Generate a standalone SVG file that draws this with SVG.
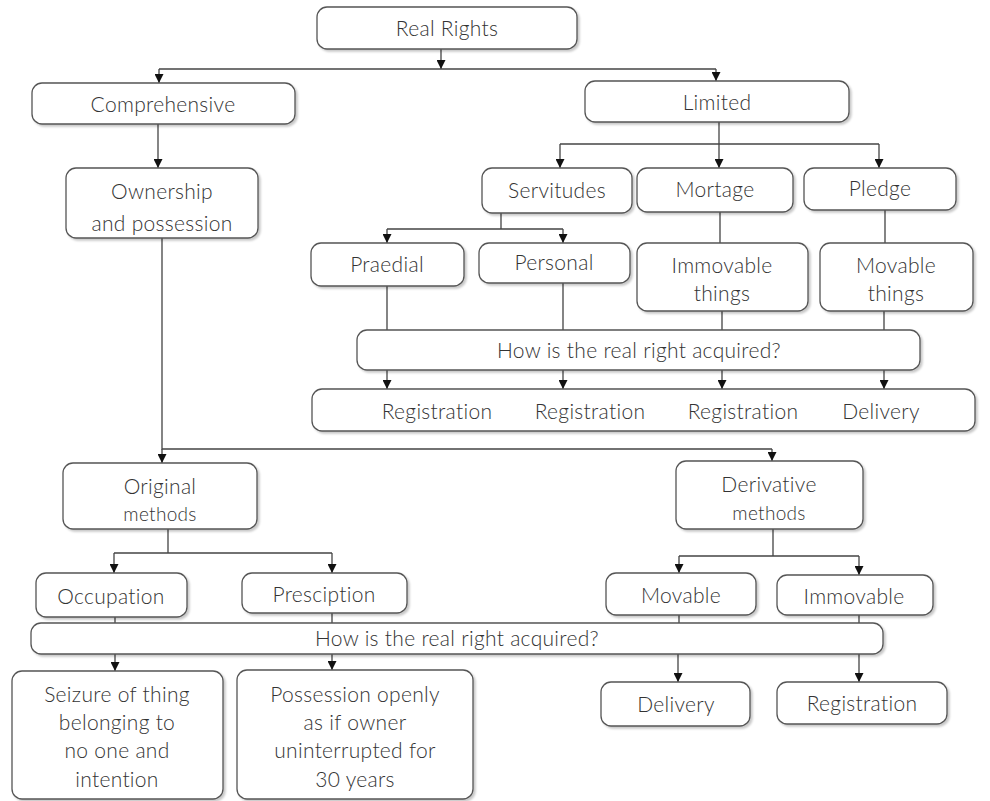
<svg xmlns="http://www.w3.org/2000/svg" width="990" height="801" viewBox="0 0 990 801">
<defs>
<style>
.box{fill:#fff;stroke:#555;stroke-width:1.3;filter:url(#sh)}
.t{font-family:Lato,"Open Sans","DejaVu Sans",sans-serif;font-weight:300;font-size:21px;letter-spacing:0.3px;fill:#333;text-anchor:middle}
.s{font-size:19px}
.c{fill:none;stroke:#444;stroke-width:1.3}
</style>
<filter id="sh" x="-10%" y="-10%" width="120%" height="130%">
<feDropShadow dx="2" dy="2" stdDeviation="1.2" flood-color="#000" flood-opacity="0.22"/>
</filter>
<marker id="ar" markerUnits="userSpaceOnUse" markerWidth="9" markerHeight="9" refX="8" refY="4" orient="auto" viewBox="0 0 8 8">
<path d="M0,0 L8,4 L0,8 z" fill="#111"/>
</marker>
</defs>
<rect width="990" height="801" fill="#fff"/>
<g id="connectors">
<path class="c" d="M441,49 V69" marker-end="url(#ar)"/>
<path class="c" d="M159,69 H716"/>
<path class="c" d="M159,69 V83" marker-end="url(#ar)"/>
<path class="c" d="M716,69 V81" marker-end="url(#ar)"/>
<path class="c" d="M158,124 V168" marker-end="url(#ar)"/>
<path class="c" d="M719,122 V168" marker-end="url(#ar)"/>
<path class="c" d="M560,144 H879"/>
<path class="c" d="M560,144 V168" marker-end="url(#ar)"/>
<path class="c" d="M879,144 V168" marker-end="url(#ar)"/>
<path class="c" d="M501,213 V229 M387,229 H563"/>
<path class="c" d="M387,229 V243" marker-end="url(#ar)"/>
<path class="c" d="M563,229 V243" marker-end="url(#ar)"/>
<path class="c" d="M720,212 V243 M885,210 V243"/>
<path class="c" d="M387,286 V330 M563,283 V330 M722,311 V330 M884,311 V330"/>
<path class="c" d="M387,370 V389" marker-end="url(#ar)"/>
<path class="c" d="M563,370 V389" marker-end="url(#ar)"/>
<path class="c" d="M722,370 V389" marker-end="url(#ar)"/>
<path class="c" d="M884,370 V389" marker-end="url(#ar)"/>
<path class="c" d="M162,238 V449 H772"/>
<path class="c" d="M162,449 V463" marker-end="url(#ar)"/>
<path class="c" d="M772,449 V461" marker-end="url(#ar)"/>
<path class="c" d="M168,529 V553 M114,553 H332"/>
<path class="c" d="M114,553 V573" marker-end="url(#ar)"/>
<path class="c" d="M332,553 V573" marker-end="url(#ar)"/>
<path class="c" d="M773,529 V556 M679,556 H859"/>
<path class="c" d="M679,556 V573" marker-end="url(#ar)"/>
<path class="c" d="M859,556 V575" marker-end="url(#ar)"/>
<path class="c" d="M115,617 V623 M332,613 V623 M679,615 V623 M859,615 V623"/>
<path class="c" d="M115,654 V671" marker-end="url(#ar)"/>
<path class="c" d="M332,654 V670" marker-end="url(#ar)"/>
<path class="c" d="M678,654 V682" marker-end="url(#ar)"/>
<path class="c" d="M859,654 V682" marker-end="url(#ar)"/>
</g>
<g id="n-real-rights"><rect class="box" x="317" y="7" width="260" height="42" rx="10"/><text class="t" x="447" y="36">Real Rights</text></g>
<g id="n-comprehensive"><rect class="box" x="32" y="83" width="263" height="41" rx="10"/><text class="t" x="163" y="112">Comprehensive</text></g>
<g id="n-limited"><rect class="box" x="585" y="81" width="264" height="41" rx="10"/><text class="t" x="717" y="110">Limited</text></g>
<g id="n-ownership"><rect class="box" x="66" y="168" width="192" height="70" rx="10"/><text class="t" x="162" y="199">Ownership</text><text class="t" x="162" y="231">and possession</text></g>
<g id="n-servitudes"><rect class="box" x="482" y="168" width="150" height="45" rx="10"/><text class="t" x="557" y="198">Servitudes</text></g>
<g id="n-mortage"><rect class="box" x="637" y="168" width="156" height="44" rx="10"/><text class="t" x="715" y="197">Mortage</text></g>
<g id="n-pledge"><rect class="box" x="804" y="168" width="152" height="42" rx="10"/><text class="t" x="880" y="196">Pledge</text></g>
<g id="n-praedial"><rect class="box" x="311" y="243" width="153" height="43" rx="10"/><text class="t" x="387" y="272">Praedial</text></g>
<g id="n-personal"><rect class="box" x="479" y="243" width="151" height="40" rx="10"/><text class="t" x="554" y="270">Personal</text></g>
<g id="n-immovable-things"><rect class="box" x="637" y="243" width="171" height="68" rx="10"/><text class="t" x="722" y="273">Immovable</text><text class="t" x="722" y="301">things</text></g>
<g id="n-movable-things"><rect class="box" x="820" y="243" width="153" height="68" rx="10"/><text class="t" x="896" y="273">Movable</text><text class="t" x="896" y="301">things</text></g>
<g id="n-how-1"><rect class="box" x="357" y="330" width="563" height="40" rx="10"/><text class="t" x="639" y="358">How is the real right acquired?</text></g>
<g id="n-acquisition-row"><rect class="box" x="312" y="389" width="663" height="42" rx="10"/><text class="t" x="437" y="419">Registration</text><text class="t" x="590" y="419">Registration</text><text class="t" x="743" y="419">Registration</text><text class="t" x="881" y="419">Delivery</text></g>
<g id="n-original"><rect class="box" x="63" y="463" width="194" height="66" rx="10"/><text class="t" x="160" y="494">Original</text><text class="t s" x="160" y="521">methods</text></g>
<g id="n-derivative"><rect class="box" x="676" y="461" width="187" height="68" rx="10"/><text class="t" x="769" y="492">Derivative</text><text class="t s" x="769" y="520">methods</text></g>
<g id="n-occupation"><rect class="box" x="36" y="573" width="151" height="44" rx="10"/><text class="t" x="111" y="604">Occupation</text></g>
<g id="n-presciption"><rect class="box" x="242" y="573" width="165" height="40" rx="10"/><text class="t" x="324" y="602">Presciption</text></g>
<g id="n-movable"><rect class="box" x="606" y="573" width="150" height="42" rx="10"/><text class="t" x="681" y="603">Movable</text></g>
<g id="n-immovable"><rect class="box" x="777" y="575" width="156" height="40" rx="10"/><text class="t" x="854" y="604">Immovable</text></g>
<g id="n-how-2"><rect class="box" x="31" y="623" width="852" height="31" rx="10"/><text class="t" x="457" y="646">How is the real right acquired?</text></g>
<g id="n-seizure"><rect class="box" x="12" y="671" width="211" height="128" rx="10"/><text class="t" x="117" y="702">Seizure of thing</text><text class="t" x="117" y="730">belonging to</text><text class="t" x="117" y="758">no one and</text><text class="t" x="117" y="787">intention</text></g>
<g id="n-possession"><rect class="box" x="237" y="670" width="236" height="129" rx="10"/><text class="t" x="355" y="702">Possession openly</text><text class="t" x="355" y="730">as if owner</text><text class="t" x="355" y="758">uninterrupted for</text><text class="t" x="355" y="787">30 years</text></g>
<g id="n-delivery"><rect class="box" x="601" y="682" width="149" height="44" rx="10"/><text class="t" x="676" y="712">Delivery</text></g>
<g id="n-registration"><rect class="box" x="777" y="682" width="170" height="42" rx="10"/><text class="t" x="862" y="711">Registration</text></g>
</svg>
